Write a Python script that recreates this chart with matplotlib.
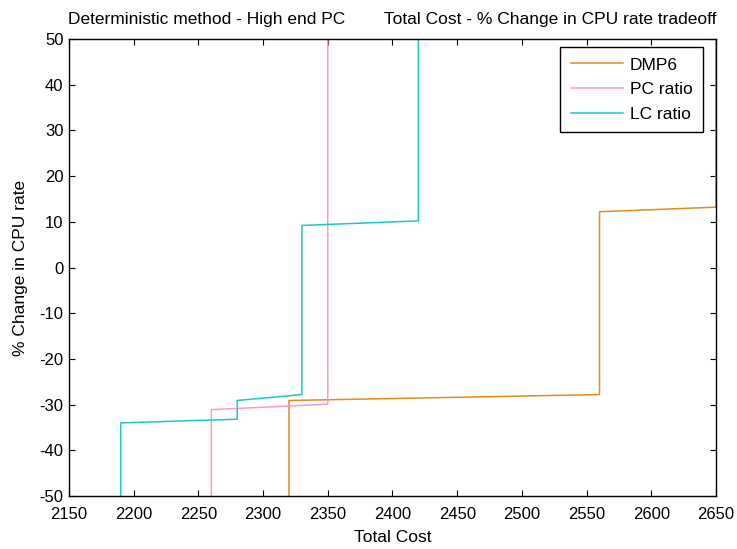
import matplotlib
matplotlib.use("Agg")
import matplotlib.pyplot as plt

plt.rcParams['font.family'] = ['Liberation Sans', 'DejaVu Sans']
plt.rcParams['axes.unicode_minus'] = False

# Total cost vs. % change in CPU rate for each method
dmp6_cost = [2320, 2320, 2560, 2560, 2650, 2650]
dmp6_rate = [-50, -29.1, -27.8, 12.2, 13.2, 50]

pc_cost = [2260, 2260, 2350, 2350]
pc_rate = [-50, -31.1, -29.9, 50]

lc_cost = [2190, 2190, 2280, 2280, 2330, 2330, 2420, 2420]
lc_rate = [-50, -34.0, -33.2, -29.1, -27.8, 9.2, 10.2, 50]

x_ticks = list(range(2150, 2651, 50))
y_ticks = list(range(-50, 51, 10))

fig = plt.figure(figsize=(7.37, 5.49), dpi=100)
ax = fig.add_axes([0.0936, 0.0965, 0.8779, 0.8325])

ax.plot(dmp6_cost, dmp6_rate, color='#E8891C', lw=1.1, label='DMP6')
ax.plot(pc_cost, pc_rate, color='#FF9ACB', lw=1.1, label='PC ratio')
ax.plot(lc_cost, lc_rate, color='#1CC8C8', lw=1.1, label='LC ratio')

ax.set_xlim(2150, 2650)
ax.set_ylim(-50, 50)
ax.set_xticks(x_ticks)
ax.set_yticks(y_ticks)
ax.tick_params(direction='in', top=True, right=True, length=4, labelsize=12)
ax.tick_params(axis='x', pad=8)
ax.tick_params(axis='y', pad=4)
for s in ax.spines.values():
    s.set_linewidth(1.0)

ax.set_xlabel('Total Cost', fontsize=12.5, labelpad=6)
ax.set_ylabel('% Change in CPU rate', fontsize=12.5, labelpad=8)
ax.set_title('Deterministic method - High end PC        Total Cost - % Change in CPU rate tradeoff',
             fontsize=12.5, pad=11)

leg = ax.legend(loc='upper right', bbox_to_anchor=(0.9795, 0.9825), fontsize=12.5,
                fancybox=False, framealpha=1, edgecolor='black',
                handlelength=3.0, borderpad=0.6, labelspacing=0.55, handletextpad=0.4,
                borderaxespad=0)
leg.get_frame().set_linewidth(1.0)

fig.savefig('out.png', dpi=100)
